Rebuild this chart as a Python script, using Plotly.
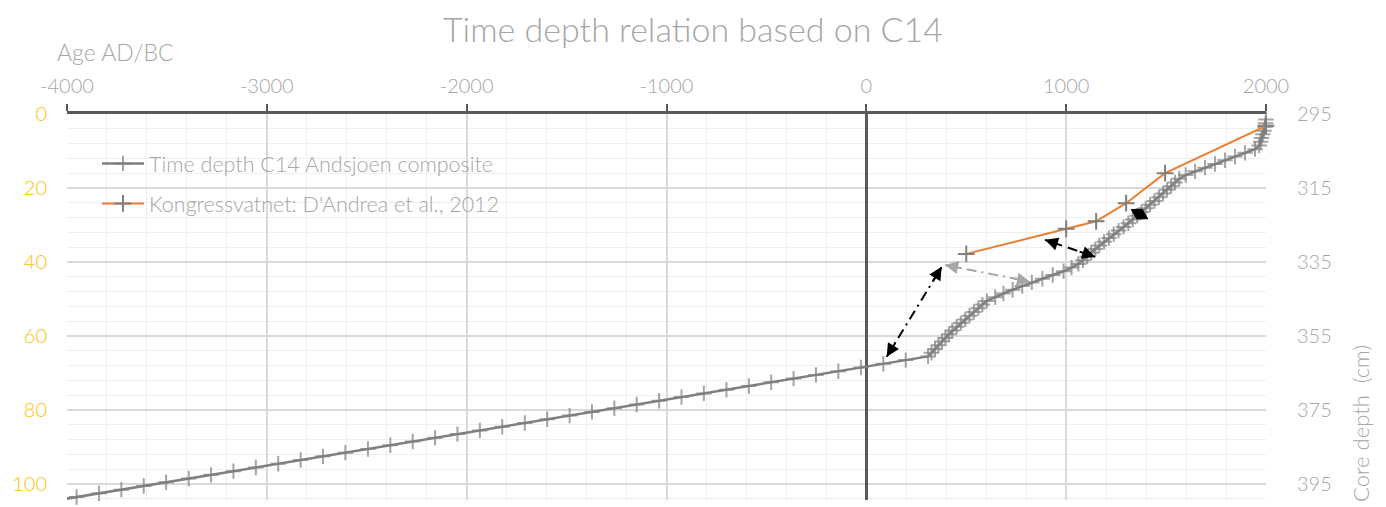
import plotly.graph_objects as go

# ---------------- data ----------------
# Time depth C14 Andsjoen composite (depth in cm below 295 cm, age AD/BC)
andsjoen_depth = [0.5, 1.5, 2.5, 3.5, 4.5, 5.5, 6.5, 7.5, 8.5, 9.5,
                  10.5, 11.5, 12.5, 13.5, 14.5, 15.5, 16.5, 17.5, 18.5, 19.5,
                  20.5, 21.5, 22.5, 23.5, 24.5, 25.5, 26.5, 27.5, 28.5, 29.5,
                  30.5, 31.5, 32.5, 33.5, 34.5, 35.5, 36.5, 37.5, 38.5, 39.5,
                  40.5, 41.5, 42.5, 43.5, 44.5, 45.5, 46.5, 47.5, 48.5, 49.5,
                  50.5, 51.5, 52.5, 53.5, 54.5, 55.5, 56.5, 57.5, 58.5, 59.5,
                  60.5, 61.5, 62.5, 63.5, 64.5, 65.5, 66.5, 67.5, 68.5, 69.5,
                  70.5, 71.5, 72.5, 73.5, 74.5, 75.5, 76.5, 77.5, 78.5, 79.5,
                  80.5, 81.5, 82.5, 83.5, 84.5, 85.5, 86.5, 87.5, 88.5, 89.5,
                  90.5, 91.5, 92.5, 93.5, 94.5, 95.5, 96.5, 97.5, 98.5, 99.5,
                  100.5, 101.5, 102.5, 103.5, 104.5]
andsjoen_age = [2003, 2000, 1998, 1995, 1990, 1984, 1978, 1973, 1966, 1945,
                1895, 1845, 1795, 1745, 1695, 1645, 1598, 1566, 1545, 1525,
                1505, 1485, 1464, 1442, 1420, 1398, 1377, 1355, 1333, 1311,
                1287, 1262, 1238, 1214, 1190, 1166, 1146, 1125, 1105, 1084,
                1061, 1027, 987, 933, 881, 828, 780, 732, 686, 645,
                603, 581, 560, 538, 516, 495, 473, 452, 430, 413,
                396, 378, 361, 344, 326, 309, 197, 85, -27, -140,
                -252, -364, -476, -588, -700, -813, -925, -1037, -1149, -1261,
                -1373, -1485, -1597, -1709, -1822, -1934, -2046, -2158, -2270, -2382,
                -2494, -2607, -2719, -2831, -2943, -3055, -3167, -3279, -3391, -3504,
                -3616, -3728, -3840, -3952, -4064]

# Kongressvatnet: D'Andrea et al., 2012
kong_age = [500, 1000, 1150, 1300, 1495, 2000]
kong_depth = [37.8, 31.0, 29.0, 24.1, 16.0, 3.2]

# axes
x_ticks = [-4000, -3000, -2000, -1000, 0, 1000, 2000]
y_ticks = [0, 20, 40, 60, 80, 100]
core_offset = 295  # right axis = depth + 295 cm

# arrows (age, depth) start -> end
arrow_1 = [(102, 65.6), (377, 41.3)]
arrow_2 = [(394, 40.8), (819, 45.3)]
arrow_3 = [(894, 34.0), (1145, 38.6)]
arrow_4 = [(1326, 25.8), (1408, 28.3)]

# ---------------- layout constants ----------------
W, H = 1386, 507
ML, MR, MT, MB = 67, 120, 114, 7
X_RANGE = [-4000, 2000]
Y_MAX = 104.3
PW, PH = W - ML - MR, H - MT - MB
PX_X = PW / (X_RANGE[1] - X_RANGE[0])
PX_Y = PH / Y_MAX

FONT = "Lato"
GREY_TXT = "#a6a6a6"
GOLD = "#FFC000"

fig = go.Figure()

sizes = [11 if a >= X_RANGE[0] else 0 for a in andsjoen_age]
fig.add_trace(go.Scatter(
    x=andsjoen_age, y=andsjoen_depth, mode="lines+markers",
    name="Time depth C14 Andsjoen composite",
    line=dict(color="#7f7f7f", width=2.5),
    marker=dict(symbol="cross-thin", size=sizes, line=dict(color="#7f7f7f", width=2)),
    cliponaxis=False, legendgroup="a",
))
fig.add_trace(go.Scatter(
    x=kong_age, y=kong_depth, mode="lines+markers",
    name="Kongressvatnet: D'Andrea et al., 2012",
    line=dict(color="#ED7D31", width=2),
    marker=dict(symbol="cross-thin", size=12, line=dict(color="#7f7f7f", width=2)),
    cliponaxis=False, legendgroup="b",
))
# dummy trace for right axis
fig.add_trace(go.Scatter(x=[None], y=[None], yaxis="y2", showlegend=False, hoverinfo="skip"))


def add_arrow(seg, color, dash, head=2, size=1.3, width=2):
    (x0, y0), (x1, y1) = seg
    fig.add_shape(type="line", xref="x", yref="y", x0=x0, y0=y0, x1=x1, y1=y1,
                  line=dict(color=color, width=width, dash=dash), layer="above")
    dxp = (x1 - x0) * PX_X
    dyp = (y1 - y0) * PX_Y
    L = (dxp ** 2 + dyp ** 2) ** 0.5
    f = 18.0 / L
    for (tx, ty), (ox, oy) in (((x1, y1), (x0, y0)), ((x0, y0), (x1, y1))):
        fig.add_annotation(x=tx, y=ty, ax=tx + (ox - tx) * f, ay=ty + (oy - ty) * f,
                           xref="x", yref="y", axref="x", ayref="y", text="",
                           showarrow=True, arrowhead=head, arrowsize=size,
                           arrowwidth=width, arrowcolor=color, standoff=0)


add_arrow(arrow_1, "#000000", "10px,5px,2px,5px")
add_arrow(arrow_2, "#a6a6a6", "10px,5px,2px,5px")
add_arrow(arrow_3, "#000000", "10px,6px,2px,6px")

# diamond (two arrowheads back to back) drawn as a filled path
(dx0, dy0), (dx1, dy1) = arrow_4
mx, my = (dx0 + dx1) / 2, (dy0 + dy1) / 2
vx, vy = (dx1 - dx0) * PX_X, (dy1 - dy0) * PX_Y
vl = (vx ** 2 + vy ** 2) ** 0.5
half_w = 5.5  # px
nx, ny = -vy / vl * half_w, vx / vl * half_w
p1 = (mx + nx / PX_X, my + ny / PX_Y)
p2 = (mx - nx / PX_X, my - ny / PX_Y)
fig.add_shape(type="path", xref="x", yref="y",
              path=f"M{dx0},{dy0} L{p1[0]},{p1[1]} L{dx1},{dy1} L{p2[0]},{p2[1]} Z",
              fillcolor="#000000", line=dict(color="#000000", width=1), layer="above")

fig.update_layout(
    width=W, height=H,
    margin=dict(l=ML, r=MR, t=MT, b=MB),
    paper_bgcolor="white", plot_bgcolor="white",
    font=dict(family=FONT, color=GREY_TXT, weight=300),
    title=dict(text="Time depth relation based on C14", x=0.5, xanchor="center",
               y=1 - 30 / H, yanchor="middle",
               font=dict(family=FONT, size=34, color=GREY_TXT, weight=300)),
    legend=dict(x=(97 - ML) / PW, y=(H - MB - 143) / PH, xanchor="left", yanchor="top",
                bgcolor="rgba(0,0,0,0)", font=dict(size=21.5, color=GREY_TXT, weight=300),
                itemwidth=42, tracegroupgap=9, traceorder="grouped"),
    xaxis=dict(
        side="top", range=X_RANGE, tickvals=x_ticks, ticktext=[str(v) for v in x_ticks],
        tickfont=dict(size=20, color=GREY_TXT, weight=300),
        ticks="outside", ticklen=7, tickwidth=2, tickcolor="#595959",
        ticklabelstandoff=3,
        showline=True, linecolor="#595959", linewidth=3,
        showgrid=True, gridcolor="#d9d9d9", gridwidth=1.5,
        minor=dict(dtick=200, showgrid=True, gridcolor="#efefef", gridwidth=1),
        zeroline=True, zerolinecolor="#595959", zerolinewidth=3,
    ),
    yaxis=dict(
        range=[Y_MAX, 0], tickvals=y_ticks,
        tickfont=dict(size=20, color=GOLD, weight=300),
        ticklabelstandoff=19,
        showgrid=True, gridcolor="#d9d9d9", gridwidth=1.5,
        minor=dict(dtick=4, showgrid=True, gridcolor="#efefef", gridwidth=1),
        showline=False, zeroline=False,
    ),
    yaxis2=dict(
        overlaying="y", side="right", range=[Y_MAX + core_offset, core_offset],
        tickvals=[v + core_offset for v in y_ticks],
        tickfont=dict(size=20, color=GREY_TXT, weight=300),
        ticklabelstandoff=30, showgrid=False, zeroline=False, showline=False,
    ),
)

fig.add_annotation(text="Age AD/BC", xref="paper", yref="paper",
                   x=(55 - ML) / PW, y=(H - MB - 52) / PH, xanchor="left", yanchor="middle",
                   showarrow=False, font=dict(size=23, color=GREY_TXT, weight=300))
fig.add_annotation(text="Core depth  (cm)", xref="paper", yref="paper",
                   x=(1360 - ML) / PW, y=(H - MB - 424) / PH, xanchor="center", yanchor="middle",
                   textangle=-90, showarrow=False,
                   font=dict(size=22, color=GREY_TXT, weight=300))

fig.write_html("out.html")
